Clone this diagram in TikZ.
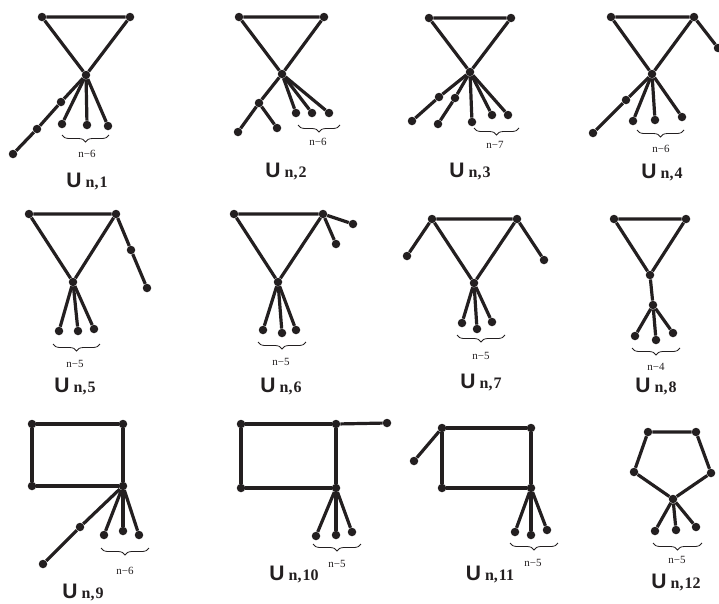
\documentclass[tikz,border=0pt]{standalone}
\usepackage{fontspec}
\setmainfont{Liberation Serif}
\setsansfont{Liberation Sans}
\usetikzlibrary{decorations.pathreplacing}
\definecolor{ink}{RGB}{35,31,32}
\newcommand{\ulab}[1]{{\sffamily\bfseries\fontsize{21}{22}\selectfont U}\hspace{4pt}{\bfseries\fontsize{16}{18}\selectfont n,\kern1pt#1}}

\begin{document}
\begin{tikzpicture}[
    x=1pt, y=-1pt,
    vtx/.style={circle, fill=ink, inner sep=0pt, minimum size=8.5pt},
    edg/.style={draw=ink, line width=3.2pt},
    brc/.style={draw=ink, line width=0.8pt, decorate, decoration={brace, mirror, amplitude=7pt}},
    cnt/.style={anchor=base, text=ink, inner sep=0pt, font=\fontsize{11}{12}\selectfont},
    ttl/.style={anchor=base, text=ink, inner sep=0pt}
  ]
  \useasboundingbox (0,0) rectangle (719,603);

  % --- U_{n,1} ---
  \node[vtx] (g1a) at (42,17) {};
  \node[vtx] (g1b) at (130,17) {};
  \node[vtx] (g1c) at (86,75) {};
  \node[vtx] (g1d) at (61,102) {};
  \node[vtx] (g1e) at (37,129) {};
  \node[vtx] (g1f) at (13,154) {};
  \node[vtx] (g1g) at (62,124) {};
  \node[vtx] (g1h) at (87,125) {};
  \node[vtx] (g1i) at (108,126) {};
  \draw[edg] (g1a) -- (g1b) -- (g1c) -- (g1a);
  \draw[edg] (g1c) -- (g1d) -- (g1e) -- (g1f);
  \draw[edg] (g1c) -- (g1g);
  \draw[edg] (g1c) -- (g1h);
  \draw[edg] (g1c) -- (g1i);
  \coordinate (b1l) at (62,135);
  \coordinate (b1r) at (109,135);
  \draw[brc] (b1l) -- (b1r);
  \node[cnt] (c1) at (87,157) {n−6};
  \node[ttl] (t1) at (87,187) {\ulab{1}};

  % --- U_{n,2} ---
  \node[vtx] (g2a) at (239,17) {};
  \node[vtx] (g2b) at (324,17) {};
  \node[vtx] (g2c) at (282,74) {};
  \node[vtx] (g2d) at (259,103) {};
  \node[vtx] (g2e) at (238,132) {};
  \node[vtx] (g2f) at (277,128) {};
  \node[vtx] (g2g) at (296,113) {};
  \node[vtx] (g2h) at (312,113) {};
  \node[vtx] (g2i) at (329,113) {};
  \draw[edg] (g2a) -- (g2b) -- (g2c) -- (g2a);
  \draw[edg] (g2c) -- (g2d) -- (g2e);
  \draw[edg] (g2d) -- (g2f);
  \draw[edg] (g2c) -- (g2g);
  \draw[edg] (g2c) -- (g2h);
  \draw[edg] (g2c) -- (g2i);
  \coordinate (b2l) at (298,125);
  \coordinate (b2r) at (340,125);
  \draw[brc] (b2l) -- (b2r);
  \node[cnt] (c2) at (318,145) {n−6};
  \node[ttl] (t2) at (286,177) {\ulab{2}};

  % --- U_{n,3} ---
  \node[vtx] (g3a) at (429,18) {};
  \node[vtx] (g3b) at (511,18) {};
  \node[vtx] (g3c) at (470,72) {};
  \node[vtx] (g3d) at (439,97) {};
  \node[vtx] (g3e) at (412,121) {};
  \node[vtx] (g3f) at (455,98) {};
  \node[vtx] (g3g) at (438,124) {};
  \node[vtx] (g3h) at (472,122) {};
  \node[vtx] (g3i) at (492,115) {};
  \node[vtx] (g3j) at (508,115) {};
  \draw[edg] (g3a) -- (g3b) -- (g3c) -- (g3a);
  \draw[edg] (g3c) -- (g3d) -- (g3e);
  \draw[edg] (g3c) -- (g3f) -- (g3g);
  \draw[edg] (g3c) -- (g3h);
  \draw[edg] (g3c) -- (g3i);
  \draw[edg] (g3c) -- (g3j);
  \coordinate (b3l) at (474,128);
  \coordinate (b3r) at (519,128);
  \draw[brc] (b3l) -- (b3r);
  \node[cnt] (c3) at (495,148) {n−7};
  \node[ttl] (t3) at (470,177) {\ulab{3}};

  % --- U_{n,4} ---
  \node[vtx] (g4a) at (611,17) {};
  \node[vtx] (g4b) at (694,17) {};
  \node[vtx] (g4p) at (718,48) {};
  \node[vtx] (g4c) at (652,74) {};
  \node[vtx] (g4d) at (626,100) {};
  \node[vtx] (g4e) at (593,133) {};
  \node[vtx] (g4g) at (633,121) {};
  \node[vtx] (g4h) at (655,120) {};
  \node[vtx] (g4i) at (682,117) {};
  \draw[edg] (g4a) -- (g4b) -- (g4c) -- (g4a);
  \draw[edg] (g4b) -- (g4p);
  \draw[edg] (g4c) -- (g4d) -- (g4e);
  \draw[edg] (g4c) -- (g4g);
  \draw[edg] (g4c) -- (g4h);
  \draw[edg] (g4c) -- (g4i);
  \coordinate (b4l) at (637,130);
  \coordinate (b4r) at (684,130);
  \draw[brc] (b4l) -- (b4r);
  \node[cnt] (c4) at (661,152) {n−6};
  \node[ttl] (t4) at (662,178) {\ulab{4}};

  % --- U_{n,5} ---
  \node[vtx] (g5a) at (29,214) {};
  \node[vtx] (g5b) at (116,214) {};
  \node[vtx] (g5c) at (73,282) {};
  \node[vtx] (g5d) at (131,250) {};
  \node[vtx] (g5e) at (147,288) {};
  \node[vtx] (g5f) at (59,331) {};
  \node[vtx] (g5g) at (78,331) {};
  \node[vtx] (g5h) at (94,329) {};
  \draw[edg] (g5a) -- (g5b) -- (g5c) -- (g5a);
  \draw[edg] (g5b) -- (g5d) -- (g5e);
  \draw[edg] (g5c) -- (g5f);
  \draw[edg] (g5c) -- (g5g);
  \draw[edg] (g5c) -- (g5h);
  \coordinate (b5l) at (53,344);
  \coordinate (b5r) at (100,344);
  \draw[brc] (b5l) -- (b5r);
  \node[cnt] (c5) at (75,367) {n−5};
  \node[ttl] (t5) at (75,392) {\ulab{5}};

  % --- U_{n,6} ---
  \node[vtx] (g6a) at (234,214) {};
  \node[vtx] (g6b) at (323,214) {};
  \node[vtx] (g6c) at (278,282) {};
  \node[vtx] (g6d) at (353,224) {};
  \node[vtx] (g6e) at (336,244) {};
  \node[vtx] (g6f) at (263,330) {};
  \node[vtx] (g6g) at (282,333) {};
  \node[vtx] (g6h) at (296,330) {};
  \draw[edg] (g6a) -- (g6b) -- (g6c) -- (g6a);
  \draw[edg] (g6b) -- (g6d);
  \draw[edg] (g6b) -- (g6e);
  \draw[edg] (g6c) -- (g6f);
  \draw[edg] (g6c) -- (g6g);
  \draw[edg] (g6c) -- (g6h);
  \coordinate (b6l) at (258,342);
  \coordinate (b6r) at (306,342);
  \draw[brc] (b6l) -- (b6r);
  \node[cnt] (c6) at (281,365) {n−5};
  \node[ttl] (t6) at (281,392) {\ulab{6}};

  % --- U_{n,7} ---
  \node[vtx] (g7a) at (432,219) {};
  \node[vtx] (g7b) at (517,219) {};
  \node[vtx] (g7c) at (474,283) {};
  \node[vtx] (g7d) at (407,256) {};
  \node[vtx] (g7e) at (544,260) {};
  \node[vtx] (g7f) at (462,323) {};
  \node[vtx] (g7g) at (477,329) {};
  \node[vtx] (g7h) at (492,322) {};
  \draw[edg] (g7a) -- (g7b) -- (g7c) -- (g7a);
  \draw[edg] (g7a) -- (g7d);
  \draw[edg] (g7b) -- (g7e);
  \draw[edg] (g7c) -- (g7f);
  \draw[edg] (g7c) -- (g7g);
  \draw[edg] (g7c) -- (g7h);
  \coordinate (b7l) at (457,335);
  \coordinate (b7r) at (505,335);
  \draw[brc] (b7l) -- (b7r);
  \node[cnt] (c7) at (481,359) {n−5};
  \node[ttl] (t7) at (481,388) {\ulab{7}};

  % --- U_{n,8} ---
  \node[vtx] (g8a) at (614,219) {};
  \node[vtx] (g8b) at (686,219) {};
  \node[vtx] (g8c) at (650,275) {};
  \node[vtx] (g8d) at (653,305) {};
  \node[vtx] (g8e) at (635,336) {};
  \node[vtx] (g8f) at (656,340) {};
  \node[vtx] (g8g) at (673,333) {};
  \draw[edg] (g8a) -- (g8b) -- (g8c) -- (g8a);
  \draw[edg] (g8c) -- (g8d);
  \draw[edg] (g8d) -- (g8e);
  \draw[edg] (g8d) -- (g8f);
  \draw[edg] (g8d) -- (g8g);
  \coordinate (b8l) at (632,348);
  \coordinate (b8r) at (680,348);
  \draw[brc] (b8l) -- (b8r);
  \node[cnt] (c8) at (656,370) {n−4};
  \node[ttl] (t8) at (656,392) {\ulab{8}};

  % --- U_{n,9} ---
  \node[vtx] (g9a) at (32,424) {};
  \node[vtx] (g9b) at (123,424) {};
  \node[vtx] (g9c) at (32,486) {};
  \node[vtx] (g9d) at (123,486) {};
  \node[vtx] (g9e) at (80,527) {};
  \node[vtx] (g9f) at (43,564) {};
  \node[vtx] (g9g) at (104,535) {};
  \node[vtx] (g9h) at (123,531) {};
  \node[vtx] (g9i) at (139,535) {};
  \draw[edg] (g9a) -- (g9b) -- (g9d) -- (g9c) -- (g9a);
  \draw[edg] (g9d) -- (g9e) -- (g9f);
  \draw[edg] (g9d) -- (g9g);
  \draw[edg] (g9d) -- (g9h);
  \draw[edg] (g9d) -- (g9i);
  \coordinate (b9l) at (101,548);
  \coordinate (b9r) at (149,548);
  \draw[brc] (b9l) -- (b9r);
  \node[cnt] (c9) at (125,574) {n−6};
  \node[ttl] (t9) at (83,598) {\ulab{9}};

  % --- U_{n,10} ---
  \node[vtx] (g10a) at (241,424) {};
  \node[vtx] (g10b) at (336,424) {};
  \node[vtx] (g10c) at (241,488) {};
  \node[vtx] (g10d) at (336,488) {};
  \node[vtx] (g10e) at (387,423) {};
  \node[vtx] (g10f) at (316,536) {};
  \node[vtx] (g10g) at (336,535) {};
  \node[vtx] (g10h) at (352,532) {};
  \draw[edg] (g10a) -- (g10b) -- (g10d) -- (g10c) -- (g10a);
  \draw[edg] (g10b) -- (g10e);
  \draw[edg] (g10d) -- (g10f);
  \draw[edg] (g10d) -- (g10g);
  \draw[edg] (g10d) -- (g10h);
  \coordinate (b10l) at (313,544);
  \coordinate (b10r) at (361,544);
  \draw[brc] (b10l) -- (b10r);
  \node[cnt] (c10) at (337,567) {n−5};
  \node[ttl] (t10) at (294,580) {\ulab{10}};

  % --- U_{n,11} ---
  \node[vtx] (g11a) at (442,428) {};
  \node[vtx] (g11b) at (531,428) {};
  \node[vtx] (g11c) at (442,488) {};
  \node[vtx] (g11d) at (531,488) {};
  \node[vtx] (g11e) at (414,461) {};
  \node[vtx] (g11f) at (515,532) {};
  \node[vtx] (g11g) at (531,535) {};
  \node[vtx] (g11h) at (547,530) {};
  \draw[edg] (g11a) -- (g11b) -- (g11d) -- (g11c) -- (g11a);
  \draw[edg] (g11a) -- (g11e);
  \draw[edg] (g11d) -- (g11f);
  \draw[edg] (g11d) -- (g11g);
  \draw[edg] (g11d) -- (g11h);
  \coordinate (b11l) at (510,543);
  \coordinate (b11r) at (558,543);
  \draw[brc] (b11l) -- (b11r);
  \node[cnt] (c11) at (533,566) {n−5};
  \node[ttl] (t11) at (490,580) {\ulab{11}};

  % --- U_{n,12} ---
  \node[vtx] (g12a) at (648,432) {};
  \node[vtx] (g12b) at (696,432) {};
  \node[vtx] (g12c) at (711,473) {};
  \node[vtx] (g12d) at (673,499) {};
  \node[vtx] (g12e) at (634,472) {};
  \node[vtx] (g12f) at (655,531) {};
  \node[vtx] (g12g) at (676,530) {};
  \node[vtx] (g12h) at (696,527) {};
  \draw[edg] (g12a) -- (g12b) -- (g12c) -- (g12d) -- (g12e) -- (g12a);
  \draw[edg] (g12d) -- (g12f);
  \draw[edg] (g12d) -- (g12g);
  \draw[edg] (g12d) -- (g12h);
  \coordinate (b12l) at (653,543);
  \coordinate (b12r) at (702,543);
  \draw[brc] (b12l) -- (b12r);
  \node[cnt] (c12) at (677,563) {n−5};
  \node[ttl] (t12) at (676,588) {\ulab{12}};

\end{tikzpicture}
\end{document}
